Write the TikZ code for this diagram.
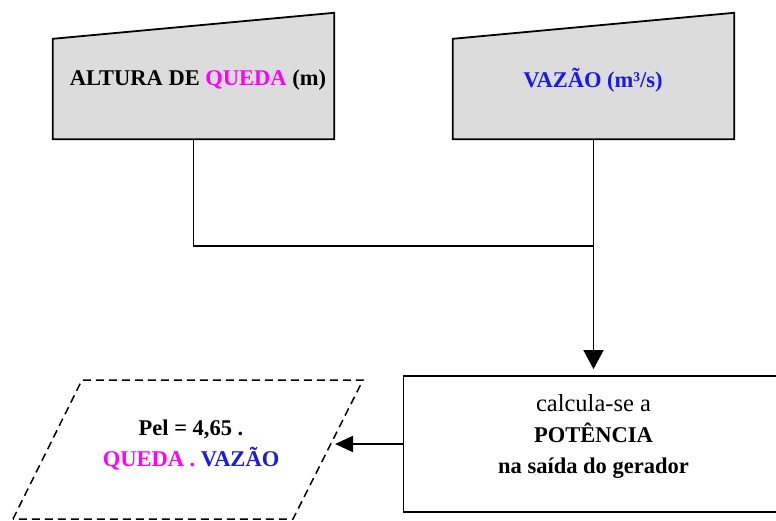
\documentclass[tikz,border=0pt]{standalone}
\usepackage{fontspec}
\setmainfont{Liberation Serif}
\usepackage{xcolor}
\usepackage{tikz}
\usetikzlibrary{positioning}
\usetikzlibrary{arrows.meta}
\usetikzlibrary{calc}
\usetikzlibrary{backgrounds}

\definecolor{queda}{RGB}{255,0,255}
\definecolor{vazao}{RGB}{25,25,235}
\definecolor{caixa}{RGB}{220,220,220}

\begin{document}
\begin{tikzpicture}
  [
    x=1pt, y=1pt,
    entrada/.style={
       minimum width =281pt,
       minimum height=100pt,
       inner sep=0pt
    },
    processo/.style={
       draw=black,
       line width=1.8pt,
       minimum width =380pt,
       minimum height=136pt,
       inner sep=0pt
    },
    texto/.style={
       align=center,
       font=\fontsize{22.5}{31}\selectfont\bfseries
    },
    linha/.style={
       draw=black,
       line width=1.8pt
    },
    seta/.style={
       draw=black,
       line width=1.8pt,
       -{Triangle[length=19pt,width=20pt]}
    },
    tracejado/.style={
       draw=black,
       line width=1.5pt,
       dash pattern=on 8pt off 5pt
    }
  ]
  \clip (0,0) rectangle (776,520);

  % dados de entrada
  \node (altura) at (193.5,431) [entrada] {};
  \node (vazao)  at (593.5,431) [entrada] {};
  \draw [linha, fill=caixa] (altura.south west) -- (altura.north west)
        -- ($(altura.north east)+(0,26)$) -- (altura.south east) -- cycle;
  \draw [linha, fill=caixa] (vazao.south west) -- (vazao.north west)
        -- ($(vazao.north east)+(0,26)$) -- (vazao.south east) -- cycle;
  \node (alturatxt) at (198,440) [texto]
        {ALTURA DE \textcolor{queda}{QUEDA} (m)};
  \node (vazaotxt)  at (593,440) [texto, vazao] {VAZÃO (m³/s)};

  % calculo
  \node (calculo) at (593.5,76) [processo,
        label={[texto, yshift=8pt]center:{\fontsize{24.5}{31}\selectfont\mdseries calcula-se a}\\
               POTÊNCIA\\ na saída do gerador}] {};

  % resultado
  \coordinate (p1) at (13,1);
  \coordinate (p2) at (82,140);
  \coordinate (p3) at (363,140);
  \coordinate (p4) at (293,1);
  \draw [tracejado] (p1) -- (p2) -- (p3) -- (p4) -- cycle;
  \node (pel) at (191,75) [texto]
        {Pel = 4,65 .\\ \textcolor{queda}{QUEDA .} \textcolor{vazao}{VAZÃO}};
  \coordinate (pelin) at (331,76);

  % ligacoes
  \coordinate (juncao) at ($(vazao.south)+(0,-107)$);
  \draw [linha] (altura.south) |- (juncao);
  \draw [seta, shorten >=6pt] (vazao.south) -- (calculo.north);
  \draw [seta, -{Triangle[length=18pt,width=16pt]}, shorten >=4pt]
        (calculo.west) -- (pelin);
\end{tikzpicture}
\end{document}
